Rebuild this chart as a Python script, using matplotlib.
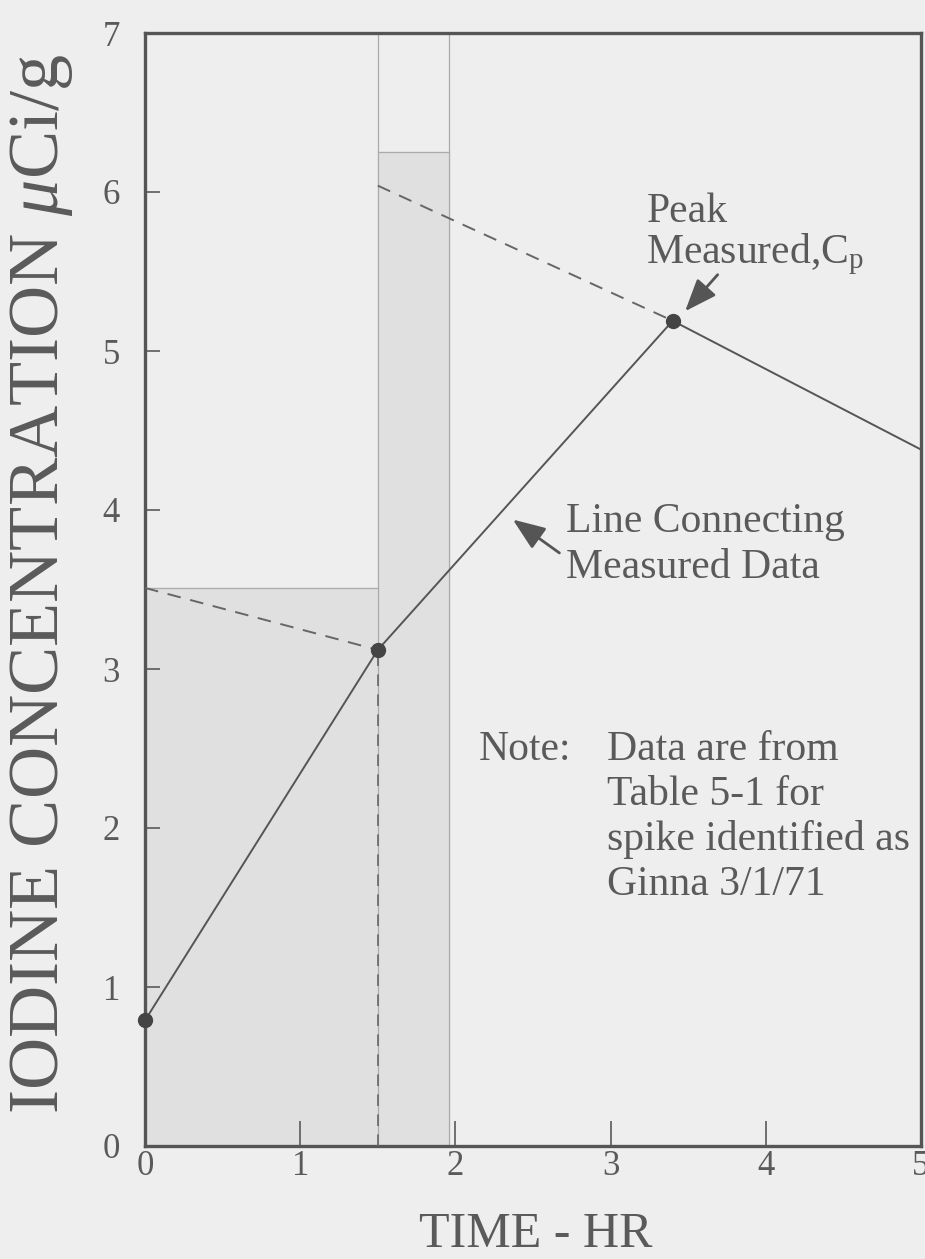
import matplotlib
matplotlib.use('Agg')
import matplotlib.pyplot as plt

# measured spike data (hr, uCi/g)
time_meas = [0.0, 1.5, 3.4, 5.0]
conc_meas = [0.79, 3.12, 5.19, 4.38]

# back-extrapolated (dashed) lines
dash1_t = [0.0, 1.5]
dash1_c = [3.51, 3.12]
dash2_t = [1.5, 3.4]
dash2_c = [6.04, 5.19]

# shaded averaging intervals
bar_left = [0.0, 1.5]
bar_right = [1.5, 1.96]
bar_height = [3.51, 6.25]

x_ticks = [0, 1, 2, 3, 4, 5]
y_ticks = [0, 1, 2, 3, 4, 5, 6, 7]

note_lines = ['Data are from', 'Table 5-1 for', 'spike identified as', 'Ginna 3/1/71']

paper = '#eeeeee'
ink = '#5a5a5a'

plt.rcParams['font.family'] = ['Liberation Serif', 'DejaVu Serif']
plt.rcParams['mathtext.fontset'] = 'custom'
plt.rcParams['mathtext.rm'] = 'Liberation Serif'
plt.rcParams['mathtext.it'] = 'Liberation Serif:italic'

fig = plt.figure(figsize=(9.25, 12.59), dpi=100, facecolor=paper)
ax = fig.add_axes([145/925, 113/1259, 776/925, 1113/1259], facecolor=paper)

for l, r, h in zip(bar_left, bar_right, bar_height):
    ax.fill_between([l, r], 0, h, color='#e0e0e0', zorder=1)
    ax.plot([l, r], [h, h], color='#aaaaaa', lw=0.9, zorder=2)

# thin interval boundaries running to the top
for xv in [bar_left[1], bar_right[1]]:
    ax.axvline(xv, color='#aaaaaa', lw=0.9, zorder=2)
ax.plot([time_meas[1], time_meas[1]], [0, conc_meas[1]], color='#666666',
        lw=1.2, ls=(0, (7, 5)), zorder=3)

ax.plot(dash1_t, dash1_c, color='#666666', lw=1.4, ls=(0, (7, 5)), zorder=3)
ax.plot(dash2_t, dash2_c, color='#666666', lw=1.4, ls=(0, (7, 5)), zorder=3)
ax.plot(time_meas, conc_meas, color='#555555', lw=1.4, zorder=4)
ax.plot(time_meas[:3], conc_meas[:3], 'o', color='#444444', ms=10, zorder=5,
        clip_on=False)

ax.set_xlim(0, 5)
ax.set_ylim(0, 7)
ax.set_xticks(x_ticks)
ax.set_yticks(y_ticks)
ax.tick_params(axis='x', direction='in', length=18, width=1.2, colors=ink,
               labelsize=25, pad=3, top=False)
ax.tick_params(axis='y', direction='in', length=11, width=1.2, colors=ink,
               labelsize=25, pad=18, right=False)
for sp in ax.spines.values():
    sp.set_color('#555555')
    sp.set_linewidth(2.4)

ax.set_ylabel(r'IODINE CONCENTRATION $\mathit{\mu}$Ci/g', fontsize=52, color=ink)
ax.yaxis.set_label_coords(-0.09, 0.505)
ax.set_xlabel('TIME - HR', fontsize=36, color=ink, va='top')
ax.xaxis.set_label_coords(0.503, -0.059)

txt = dict(fontsize=30, color=ink, va='baseline', ha='left')
ax.text(3.23, 5.81, 'Peak', **txt)
ax.text(3.23, 5.55, r'Measured,C$_\mathregular{p}$', **txt)
ax.text(2.71, 3.86, 'Line Connecting', **txt)
ax.text(2.71, 3.57, 'Measured Data', **txt)

arrow = dict(arrowstyle='-|>,head_length=0.9,head_width=0.35', color='#555555',
             lw=2, mutation_scale=22, shrinkA=0, shrinkB=0)
ax.annotate('', xy=(3.48, 5.25), xytext=(3.69, 5.48), arrowprops=arrow)
ax.annotate('', xy=(2.37, 3.94), xytext=(2.67, 3.73), arrowprops=arrow)

ax.text(2.15, 2.43, 'Note:', **txt)
for i, line in enumerate(note_lines):
    ax.text(2.98, 2.43 - i * 0.283, line, **txt)

plt.savefig('out.png', dpi=100, facecolor=paper)
